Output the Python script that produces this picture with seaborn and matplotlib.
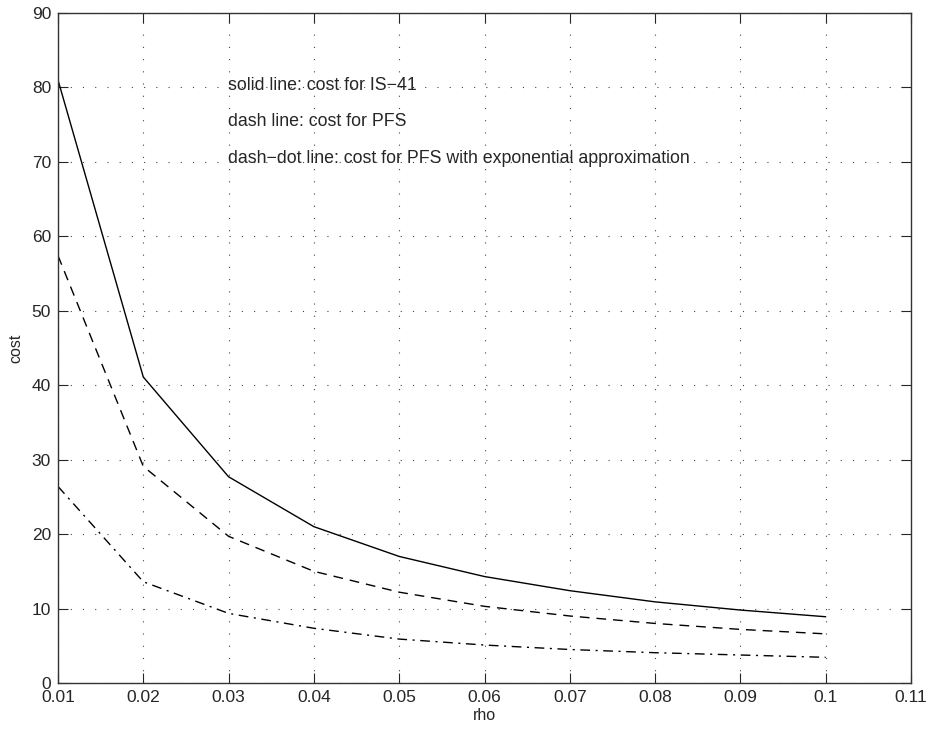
import numpy as np
import pandas as pd
import matplotlib
matplotlib.use("Agg")
import matplotlib.pyplot as plt
import seaborn as sns

# values
rho = [0.01, 0.02, 0.03, 0.04, 0.05, 0.06, 0.07, 0.08, 0.09, 0.10]
cost_is41 = [81.0, 41.1, 27.7, 21.0, 17.0, 14.3, 12.4, 10.9, 9.8, 8.9]
cost_pfs = [57.4, 29.1, 19.7, 15.0, 12.2, 10.3, 9.0, 8.0, 7.2, 6.6]
cost_pfs_exp = [26.4, 13.6, 9.35, 7.35, 5.9, 5.1, 4.5, 4.07, 3.76, 3.45]

notes = [
    "solid line: cost for IS\u221241",
    "dash line: cost for PFS",
    "dash\u2212dot line: cost for PFS with exponential approximation",
]

sns.set_style("ticks")
plt.rcParams['font.family'] = ['Liberation Sans', 'DejaVu Sans']
plt.rcParams['font.size'] = 12

fig = plt.figure(figsize=(9.31, 7.35), dpi=100)
ax = fig.add_axes([58 / 931, 1 - 683 / 735, (911 - 58) / 931, (683 - 13) / 735])

df = pd.DataFrame({'rho': rho, 'is41': cost_is41, 'pfs': cost_pfs, 'exp': cost_pfs_exp})
sns.lineplot(data=df, x='rho', y='is41', ax=ax, color='black', lw=1.0, linestyle='-')
sns.lineplot(data=df, x='rho', y='pfs', ax=ax, color='black', lw=1.0, linestyle=(0, (7, 5)))
sns.lineplot(data=df, x='rho', y='exp', ax=ax, color='black', lw=1.0, linestyle=(0, (7, 4, 1.5, 4)))

ax.set_xlim(0.01, 0.11)
ax.set_ylim(0, 90)
ax.set_xticks(np.arange(0.01, 0.111, 0.01))
ax.set_xticklabels(['0.01', '0.02', '0.03', '0.04', '0.05', '0.06', '0.07', '0.08', '0.09', '0.1', '0.11'])
ax.set_yticks(range(0, 91, 10))
ax.grid(True, linestyle=(0, (1, 10)), color='#444444', lw=0.8)
ax.tick_params(direction='in', top=True, right=True, length=7, labelsize=12.5, pad=5)
for s in ax.spines.values():
    s.set_visible(True)
    s.set_linewidth(1.0)
    s.set_color('#333333')

ax.set_xlabel('rho', fontsize=11.5, labelpad=2)
ax.set_ylabel('cost', fontsize=11.5, labelpad=6)

for i, t in enumerate(notes):
    ax.text(0.0299, 80.3 - 4.9 * i, t, fontsize=12.8, va='center', ha='left')

fig.savefig('out.png', dpi=100)
